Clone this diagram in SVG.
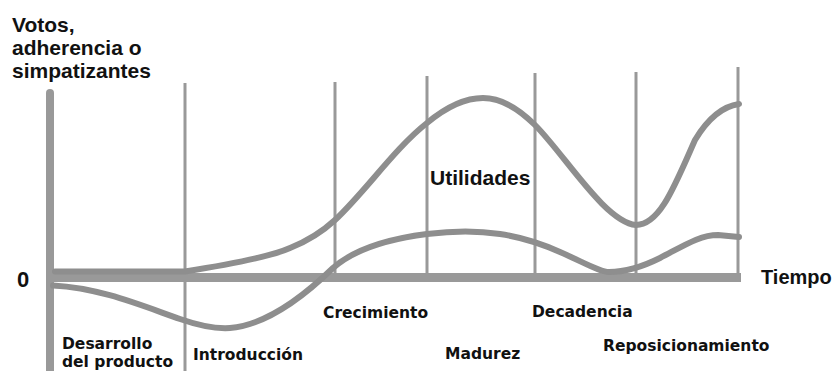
<svg xmlns="http://www.w3.org/2000/svg" width="836" height="371" viewBox="0 0 836 371">
<style>
.axis{stroke:#999999;fill:none}
.grid{stroke:#999999;stroke-width:3;fill:none}
.curve{stroke:#8e8e8e;stroke-width:6;fill:none;stroke-linecap:round;stroke-linejoin:round}
.big{font-family:"Liberation Sans",Arial,sans-serif;font-weight:bold;fill:#111111}
.phase{font-family:"DejaVu Sans",Verdana,sans-serif;font-weight:bold;font-size:15.5px;fill:#111111}
</style>
<rect width="836" height="371" fill="#ffffff"/>
<g id="grid">
<line class="grid" x1="185" y1="83" x2="185" y2="371"/>
<line class="grid" x1="335" y1="82" x2="335" y2="282"/>
<line class="grid" x1="427" y1="76" x2="427" y2="280"/>
<line class="grid" x1="535" y1="73" x2="535" y2="280"/>
<line class="grid" x1="636" y1="72" x2="636" y2="280"/>
<line class="grid" x1="738" y1="67" x2="738" y2="280"/>
</g>
<g id="axes">
<line class="axis" x1="50" y1="93" x2="50" y2="371" stroke-width="8" stroke-linecap="round"/>
<line class="axis" x1="50" y1="277.5" x2="741" y2="277.5" stroke-width="9"/>
</g>
<g id="connectors">
<path id="curve-utilidades" class="curve" d="M55,271.5 L185,271.5 C220,266 270,257 290,248 C310,240 322,232 335,220 C365,192 395,148 427,123 C445,108 465,98 483,98 C500,98 518,108 535,125 C565,155 605,222 636,225 C660,225 675,185 695,140 C710,115 725,106 739,104"/>
<path id="curve-votos" class="curve" d="M53,285.5 C100,288 140,305 180,319 C200,326 215,329 230,328 C265,325 300,300 333,268 C350,253 380,240 427,234 C450,231 475,230 500,234 C520,237 540,243 560,252 C585,263 600,272 609,272 C625,272 640,268 660,258 C685,245 700,235 718,235 L739,237"/>
</g>
<g id="axis-labels">
<text class="big" font-size="21" x="12" y="32">Votos,</text>
<text class="big" font-size="21" x="12" y="55">adherencia o</text>
<text class="big" font-size="21" x="12" y="78">simpatizantes</text>
<text class="big" font-size="22" x="17" y="287">0</text>
<text class="big" font-size="20" x="761" y="284">Tiempo</text>
<text class="big" font-size="21" x="430" y="185">Utilidades</text>
</g>
<g id="phase-labels">
<text class="phase" font-size="15" x="62" y="349">Desarrollo</text>
<text class="phase" font-size="15" x="62" y="367">del producto</text>
<text class="phase" x="193" y="360">Introducción</text>
<text class="phase" x="323" y="318">Crecimiento</text>
<text class="phase" x="445" y="359">Madurez</text>
<text class="phase" x="532" y="317">Decadencia</text>
<text class="phase" x="603" y="351">Reposicionamiento</text>
</g>
</svg>
